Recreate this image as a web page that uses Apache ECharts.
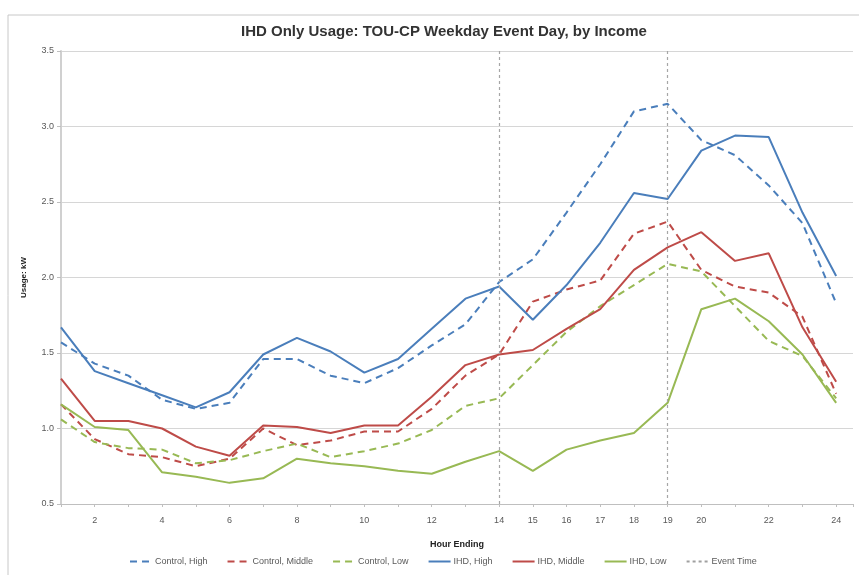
<!DOCTYPE html>
<html>
<head>
<meta charset="utf-8">
<script src="https://cdn.jsdelivr.net/npm/echarts@6/dist/echarts.min.js"></script>
<style>
  html, body { margin: 0; padding: 0; background: #fff; }
  #chart { width: 859px; height: 575px; }
</style>
</head>
<body>
<div id="chart"></div>
<script>
// Hour-ending buckets and which of them carry a tick label
const hours = [1,2,3,4,5,6,7,8,9,10,11,12,13,14,15,16,17,18,19,20,21,22,23,24];
const labelHours = [2,4,6,8,10,12,14,15,16,17,18,19,20,22,24];
const eventHours = [14, 19];

// Average usage (kW) per hour ending
const controlHigh   = [1.57,1.43,1.35,1.19,1.13,1.17,1.46,1.46,1.35,1.30,1.40,1.55,1.69,1.97,2.12,2.43,2.75,3.10,3.15,2.91,2.81,2.61,2.36,1.83];
const controlMiddle = [1.16,0.93,0.83,0.81,0.75,0.80,1.00,0.89,0.92,0.98,0.98,1.13,1.35,1.49,1.84,1.92,1.98,2.29,2.37,2.05,1.94,1.90,1.74,1.23];
const controlLow    = [1.06,0.91,0.87,0.86,0.77,0.79,0.85,0.90,0.81,0.85,0.90,0.99,1.15,1.20,1.42,1.64,1.81,1.95,2.09,2.04,1.81,1.58,1.48,1.20];
const ihdHigh       = [1.67,1.38,1.30,1.22,1.14,1.24,1.49,1.60,1.51,1.37,1.46,1.66,1.86,1.94,1.72,1.95,2.23,2.56,2.52,2.84,2.94,2.93,2.43,2.01];
const ihdMiddle     = [1.33,1.05,1.05,1.00,0.88,0.82,1.02,1.01,0.97,1.02,1.02,1.21,1.42,1.49,1.52,1.66,1.79,2.05,2.20,2.30,2.11,2.16,1.67,1.31];
const ihdLow        = [1.16,1.01,0.99,0.71,0.68,0.64,0.67,0.80,0.77,0.75,0.72,0.70,0.78,0.85,0.72,0.86,0.92,0.97,1.17,1.79,1.86,1.71,1.49,1.17];

const BLUE = '#4a7ebb', RED = '#be4b48', GREEN = '#98b954';
const FONT = '"Liberation Sans", Arial, sans-serif';

function pairs(values) {
  return hours.map((h, i) => [h, values[i]]);
}

function lineSeries(name, values, color, dashed) {
  return {
    name: name,
    type: 'line',
    data: pairs(values),
    symbol: 'none',
    smooth: false,
    lineStyle: { color: color, width: 2, type: dashed ? [7, 5] : 'solid' },
    itemStyle: { color: color },
    emphasis: { disabled: true },
    z: 3
  };
}

const chart = echarts.init(document.getElementById('chart'), null, { renderer: 'canvas' });

chart.setOption({
  animation: false,
  backgroundColor: '#ffffff',
  graphic: [{
    type: 'rect',
    shape: { x: 8, y: 15, width: 900, height: 700 },
    style: { fill: 'none', stroke: '#c8c8c8', lineWidth: 1 },
    silent: true,
    z: -10
  }],
  title: {
    text: 'IHD Only Usage: TOU-CP Weekday Event Day, by Income',
    left: 236,
    top: 19,
    textStyle: { fontFamily: FONT, fontSize: 15, fontWeight: 'bold', color: '#333333' }
  },
  grid: { left: 61, right: 6, top: 51, bottom: 71, containLabel: false },
  xAxis: {
    type: 'value',
    min: 1,
    max: 24.5,
    interval: 1,
    name: 'Hour Ending',
    nameLocation: 'middle',
    nameGap: 36,
    nameTextStyle: { fontFamily: FONT, fontSize: 9, fontWeight: 'bold', color: '#222' },
    axisLine: { show: true, lineStyle: { color: '#bfbfbf', width: 1 } },
    axisTick: { show: true, length: 3, lineStyle: { color: '#bfbfbf' } },
    splitLine: { show: false },
    axisLabel: {
      fontFamily: FONT, fontSize: 9, color: '#595959', margin: 12,
      showMinLabel: true, showMaxLabel: true,
      formatter: v => labelHours.indexOf(v) >= 0 ? String(v) : ''
    }
  },
  yAxis: {
    type: 'value',
    min: 0.5,
    max: 3.5,
    interval: 0.5,
    name: 'Usage: kW',
    nameLocation: 'middle',
    nameGap: 33,
    nameTextStyle: { fontFamily: FONT, fontSize: 8, fontWeight: 'bold', color: '#222' },
    axisLine: { show: true, lineStyle: { color: '#d0d0d0', width: 2 } },
    axisTick: { show: true, length: 4, lineStyle: { color: '#bfbfbf' } },
    splitLine: { show: true, lineStyle: { color: '#d6d6d6', width: 1 } },
    axisLabel: {
      fontFamily: FONT, fontSize: 9, color: '#595959', margin: 7,
      formatter: v => v.toFixed(1)
    }
  },
  legend: {
    bottom: 4,
    left: 124,
    itemWidth: 22,
    itemHeight: 10,
    itemGap: 19,
    itemStyle: { opacity: 0 },
    textStyle: { fontFamily: FONT, fontSize: 9, color: '#595959', padding: [0, 0, 0, -2] },
    data: ['Control, High', 'Control, Middle', 'Control, Low', 'IHD, High', 'IHD, Middle', 'IHD, Low', 'Event Time']
  },
  series: [
    lineSeries('Control, High', controlHigh, BLUE, true),
    lineSeries('Control, Middle', controlMiddle, RED, true),
    lineSeries('Control, Low', controlLow, GREEN, true),
    lineSeries('IHD, High', ihdHigh, BLUE, false),
    lineSeries('IHD, Middle', ihdMiddle, RED, false),
    lineSeries('IHD, Low', ihdLow, GREEN, false),
    {
      name: 'Event Time',
      type: 'line',
      data: [],
      symbol: 'none',
      lineStyle: { color: '#a0a0a0', width: 1, type: [3, 3] },
      itemStyle: { color: '#a0a0a0' },
      markLine: {
        silent: true,
        symbol: 'none',
        label: { show: false },
        lineStyle: { color: '#a6a6a6', width: 1.2, type: [3, 3] },
        data: eventHours.map(h => ({ xAxis: h }))
      },
      z: 1
    }
  ]
});
</script>
</body>
</html>
